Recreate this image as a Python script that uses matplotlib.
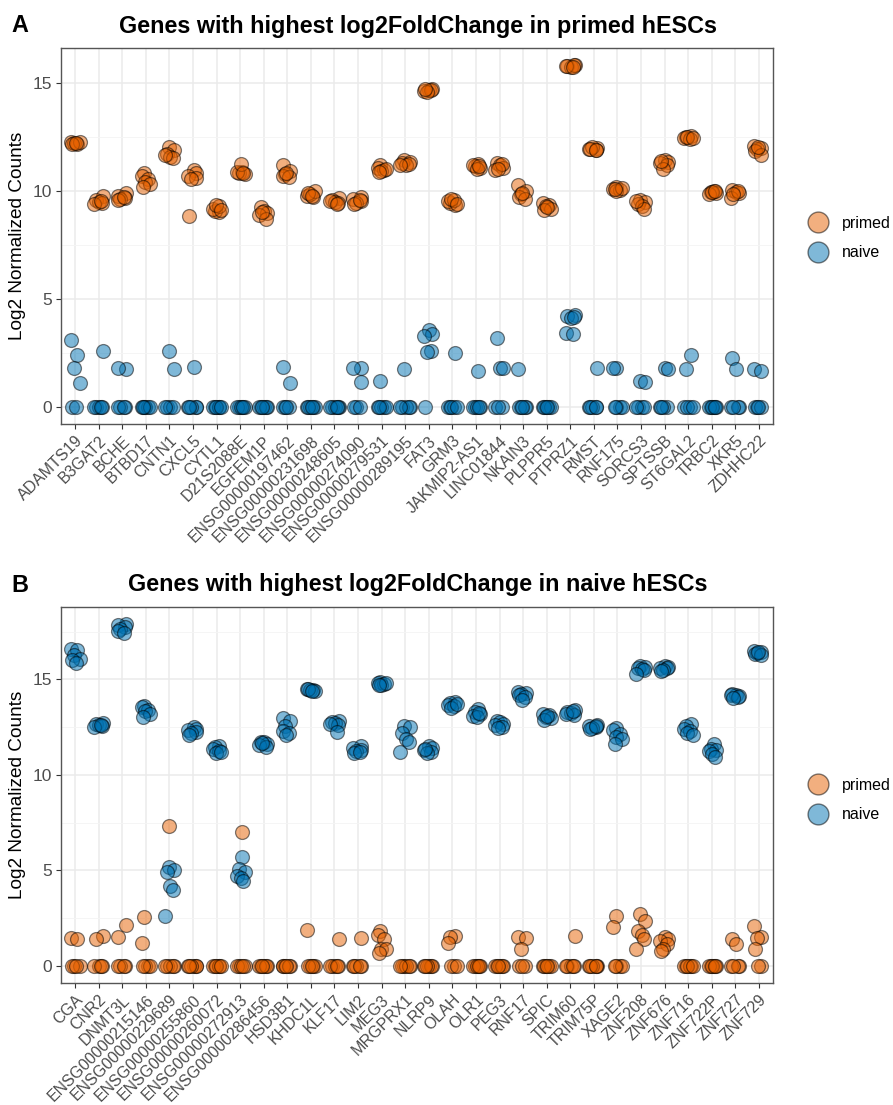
import numpy as np
import matplotlib
matplotlib.use("Agg")
import matplotlib.pyplot as plt
from matplotlib.lines import Line2D
from matplotlib.ticker import MultipleLocator

plt.rcParams["font.family"] = ["Liberation Sans", "DejaVu Sans"]

# ---------- top genes, primed-up ----------
genes_a = ["ADAMTS19", "B3GAT2", "BCHE", "BTBD17", "CNTN1", "CXCL5", "CYTL1",
           "D21S2088E", "EGFEM1P", "ENSG00000197462", "ENSG00000231698",
           "ENSG00000248605", "ENSG00000274090", "ENSG00000279531",
           "ENSG00000289195", "FAT3", "GRM3", "JAKMIP2-AS1", "LINC01844",
           "NKAIN3", "PLPPR5", "PTPRZ1", "RMST", "RNF175", "SORCS3", "SPTSSB",
           "ST6GAL2", "TRBC2", "XKR5", "ZDHHC22"]

primed_a = [
    [12.3, 12.2, 12.25, 12.3, 12.2, 12.25],
    [9.8, 9.6, 9.5, 9.45, 9.4, 9.55],
    [9.9, 9.8, 9.7, 9.65, 9.6, 9.75],
    [10.85, 10.7, 10.55, 10.45, 10.35, 10.2],
    [12.05, 11.9, 11.75, 11.6, 11.55, 11.7],
    [11.0, 10.85, 10.7, 10.6, 10.55, 8.87],
    [9.05, 9.1, 9.2, 9.3, 9.35, 9.15],
    [10.9, 10.85, 10.8, 10.9, 11.25, 10.85],
    [9.25, 9.1, 9.0, 8.9, 8.7, 9.05],
    [11.2, 10.95, 10.8, 10.7, 10.65, 10.85],
    [9.8, 9.75, 9.85, 10.0, 9.9, 9.8],
    [9.7, 9.6, 9.5, 9.45, 9.55, 9.4],
    [9.75, 9.65, 9.55, 9.45, 9.4, 9.6],
    [11.2, 11.1, 11.0, 10.95, 11.05, 10.9],
    [11.45, 11.35, 11.3, 11.2, 11.25, 11.2],
    [14.7, 14.75, 14.65, 14.7, 14.6, 14.72],
    [9.35, 9.45, 9.55, 9.6, 9.65, 9.4],
    [11.25, 11.15, 11.1, 11.2, 11.05, 11.15],
    [11.3, 11.2, 11.1, 11.0, 11.25, 11.05],
    [10.3, 10.0, 9.85, 9.75, 9.65, 9.9],
    [9.45, 9.35, 9.3, 9.2, 9.15, 9.25],
    [15.85, 15.8, 15.75, 15.85, 15.8, 15.78],
    [12.0, 11.95, 11.9, 12.05, 11.95, 11.9],
    [10.2, 10.1, 10.05, 10.0, 10.15, 10.1],
    [9.6, 9.5, 9.4, 9.3, 9.2, 9.55],
    [11.45, 11.35, 11.3, 11.2, 11.05, 11.4],
    [12.55, 12.5, 12.45, 12.4, 12.5, 12.45],
    [10.0, 9.95, 9.9, 9.85, 9.95, 10.0],
    [10.05, 9.95, 9.9, 9.7, 10.0, 9.85],
    [12.1, 12.0, 11.95, 11.85, 11.7, 12.05],
]

naive_a = [
    [3.1, 2.4, 1.8, 1.1, 0, 0],
    [2.6, 0, 0, 0, 0, 0],
    [1.75, 1.8, 0, 0, 0, 0],
    [0, 0, 0, 0, 0, 0],
    [2.6, 1.75, 0, 0, 0, 0],
    [1.85, 0, 0, 0, 0, 0],
    [0, 0, 0, 0, 0, 0],
    [0, 0, 0, 0, 0, 0],
    [0, 0, 0, 0, 0, 0],
    [1.85, 1.1, 0, 0, 0, 0],
    [0, 0, 0, 0, 0, 0],
    [0, 0, 0, 0, 0, 0],
    [1.8, 1.8, 1.15, 0, 0, 0],
    [1.2, 0, 0, 0, 0, 0],
    [1.75, 0, 0, 0, 0, 0],
    [3.55, 3.4, 3.3, 2.6, 2.55, 0],
    [2.5, 0, 0, 0, 0, 0],
    [1.65, 0, 0, 0, 0, 0],
    [3.2, 1.8, 1.8, 0, 0, 0],
    [1.75, 0, 0, 0, 0, 0],
    [0, 0, 0, 0, 0, 0],
    [4.25, 4.2, 4.1, 4.15, 3.45, 3.4],
    [1.8, 0, 0, 0, 0, 0],
    [1.8, 1.8, 0, 0, 0, 0],
    [1.2, 1.15, 0, 0, 0, 0],
    [1.8, 1.75, 0, 0, 0, 0],
    [2.4, 1.75, 0, 0, 0, 0],
    [0, 0, 0, 0, 0, 0],
    [2.25, 1.75, 0, 0, 0, 0],
    [1.75, 1.65, 0, 0, 0, 0],
]

# ---------- top genes, naive-up ----------
genes_b = ["CGA", "CNR2", "DNMT3L", "ENSG00000215146", "ENSG00000229689",
           "ENSG00000255860", "ENSG00000260072", "ENSG00000272913",
           "ENSG00000286456", "HSD3B1", "KHDC1L", "KLF17", "LIM2", "MEG3",
           "MRGPRX1", "NLRP9", "OLAH", "OLR1", "PEG3", "RNF17", "SPIC",
           "TRIM60", "TRIM75P", "XAGE2", "ZNF208", "ZNF676", "ZNF716",
           "ZNF722P", "ZNF727", "ZNF729"]

primed_b = [
    [1.45, 1.4, 0, 0, 0, 0],
    [1.55, 1.4, 0, 0, 0, 0],
    [2.15, 1.5, 0, 0, 0, 0],
    [2.55, 1.2, 0, 0, 0, 0],
    [7.35, 0, 0, 0, 0, 0],
    [0, 0, 0, 0, 0, 0],
    [0, 0, 0, 0, 0, 0],
    [7.0, 0, 0, 0, 0, 0],
    [0, 0, 0, 0, 0, 0],
    [0, 0, 0, 0, 0, 0],
    [1.9, 0, 0, 0, 0, 0],
    [1.4, 0, 0, 0, 0, 0],
    [1.45, 0, 0, 0, 0, 0],
    [1.85, 1.6, 1.4, 0.9, 0.9, 0.7],
    [0, 0, 0, 0, 0, 0],
    [0, 0, 0, 0, 0, 0],
    [1.55, 1.5, 1.2, 0, 0, 0],
    [0, 0, 0, 0, 0, 0],
    [0, 0, 0, 0, 0, 0],
    [1.5, 1.45, 0.9, 0, 0, 0],
    [0, 0, 0, 0, 0, 0],
    [1.55, 0, 0, 0, 0, 0],
    [0, 0, 0, 0, 0, 0],
    [2.6, 2.05, 0, 0, 0, 0],
    [2.7, 2.35, 1.85, 1.6, 1.4, 0.9],
    [1.5, 1.4, 1.3, 1.15, 0.9, 0.8],
    [0, 0, 0, 0, 0, 0],
    [0, 0, 0, 0, 0, 0],
    [1.4, 1.15, 0, 0, 0, 0],
    [2.1, 1.5, 1.45, 0.9, 0, 0],
]

naive_b = [
    [16.6, 16.55, 16.3, 16.05, 16.0, 15.85],
    [12.7, 12.65, 12.6, 12.55, 12.5, 12.6],
    [17.9, 17.85, 17.75, 17.65, 17.55, 17.45],
    [13.6, 13.55, 13.4, 13.35, 13.2, 13.05],
    [5.2, 5.0, 4.9, 4.2, 4.0, 2.6],
    [12.5, 12.4, 12.35, 12.25, 12.2, 12.1],
    [11.5, 11.45, 11.35, 11.25, 11.15, 11.2],
    [5.7, 5.1, 4.9, 4.7, 4.6, 4.45],
    [11.75, 11.7, 11.6, 11.55, 11.45, 11.65],
    [13.0, 12.8, 12.55, 12.3, 12.2, 12.1],
    [14.5, 14.45, 14.45, 14.4, 14.5, 14.42],
    [12.8, 12.75, 12.7, 12.6, 12.65, 12.25],
    [11.5, 11.4, 11.3, 11.25, 11.15, 11.2],
    [14.85, 14.8, 14.75, 14.7, 14.8, 14.72],
    [12.55, 12.5, 12.2, 11.9, 11.7, 11.2],
    [11.5, 11.4, 11.3, 11.2, 11.15, 11.35],
    [13.8, 13.75, 13.65, 13.6, 13.5, 13.7],
    [13.45, 13.3, 13.2, 13.1, 13.05, 13.25],
    [12.85, 12.75, 12.65, 12.6, 12.5, 12.45],
    [14.35, 14.3, 14.25, 14.2, 14.1, 13.95],
    [13.2, 13.15, 13.05, 13.0, 12.9, 13.1],
    [13.4, 13.3, 13.25, 13.15, 13.2, 13.35],
    [12.6, 12.55, 12.5, 12.45, 12.4, 12.55],
    [12.45, 12.35, 12.15, 12.0, 11.9, 11.6],
    [15.7, 15.65, 15.6, 15.55, 15.5, 15.3],
    [15.7, 15.65, 15.6, 15.6, 15.5, 15.45],
    [12.65, 12.55, 12.4, 12.3, 12.2, 12.1],
    [11.6, 11.35, 11.3, 11.25, 11.1, 10.95],
    [14.25, 14.2, 14.15, 14.2, 14.1, 14.05],
    [16.5, 16.45, 16.4, 16.35, 16.3, 16.45],
]

PRIMED = "#E66100"
NAIVE = "#0072B2"
# fixed horizontal spread of the replicates around each gene
JITTER = [-0.17, 0.09, -0.04, 0.19, -0.12, 0.03, 0.14, -0.2, 0.11, -0.08]

W, H = 893, 1105
fig = plt.figure(figsize=(W / 100, H / 100), dpi=100)


def strip(top_px, bottom_px, genes, primed, naive, title, letter, legend_px):
    ax = fig.add_axes([61 / W, 1 - bottom_px / H, 712 / W, (bottom_px - top_px) / H])
    for grp, color in ((primed, PRIMED), (naive, NAIVE)):
        xs, ys = [], []
        for i, vals in enumerate(grp):
            for k, v in enumerate(vals):
                xs.append(i + 1 + JITTER[(k + 3 * i) % len(JITTER)])
                ys.append(v)
        ax.scatter(xs, ys, s=100, c=color, alpha=0.5, edgecolors="black",
                   linewidths=0.9, zorder=3)

    top = max(max(max(v) for v in primed), max(max(v) for v in naive))
    pad = top * 0.05
    ax.set_ylim(-pad, top + pad)
    ax.set_xlim(0.4, len(genes) + 0.6)
    ax.set_xticks(range(1, len(genes) + 1))
    ax.set_xticklabels(genes, rotation=45, ha="right", va="top",
                       rotation_mode="anchor", fontsize=11.5, color="#4D4D4D")
    ax.yaxis.set_major_locator(MultipleLocator(5))
    ax.yaxis.set_minor_locator(MultipleLocator(2.5))
    ax.tick_params(axis="y", labelsize=12.5, labelcolor="#4D4D4D")
    ax.tick_params(which="major", length=3.5, width=0.8, color="#333333", pad=3)
    ax.tick_params(which="minor", length=0)
    ax.grid(which="major", color="#EBEBEB", lw=1.1, zorder=0)
    ax.grid(which="minor", axis="y", color="#F4F4F4", lw=0.6, zorder=0)
    ax.set_axisbelow(True)
    for s in ax.spines.values():
        s.set_color("#555555")
        s.set_linewidth(1.0)

    mid = (top_px + bottom_px) / 2
    fig.text(18 / W, 1 - mid / H, "Log2 Normalized Counts", rotation=90,
             ha="center", va="center", fontsize=13.7)
    fig.text(418 / W, 1 - (top_px - 22) / H, title, ha="center", va="center",
             fontsize=16.8, fontweight="bold")
    fig.text(11 / W, 1 - (top_px - 22) / H, letter, ha="left", va="center",
             fontsize=16.8, fontweight="bold")

    handles = [Line2D([], [], ls="", marker="o", markersize=15,
                      markerfacecolor=c, markeredgecolor="black", alpha=0.5,
                      markeredgewidth=1.0, label=lab)
               for c, lab in ((PRIMED, "primed"), (NAIVE, "naive"))]
    fig.legend(handles=handles, loc="center left",
               bbox_to_anchor=(800 / W, 1 - legend_px / H), frameon=False,
               fontsize=11.5, handletextpad=0.9, labelspacing=0.9,
               borderpad=0, handlelength=1.2)
    return ax


strip(48, 424, genes_a, primed_a, naive_a,
      "Genes with highest log2FoldChange in primed hESCs", "A", 238)
strip(607, 983, genes_b, primed_b, naive_b,
      "Genes with highest log2FoldChange in naive hESCs", "B", 800)

fig.savefig("out.png", dpi=100, facecolor="white")
